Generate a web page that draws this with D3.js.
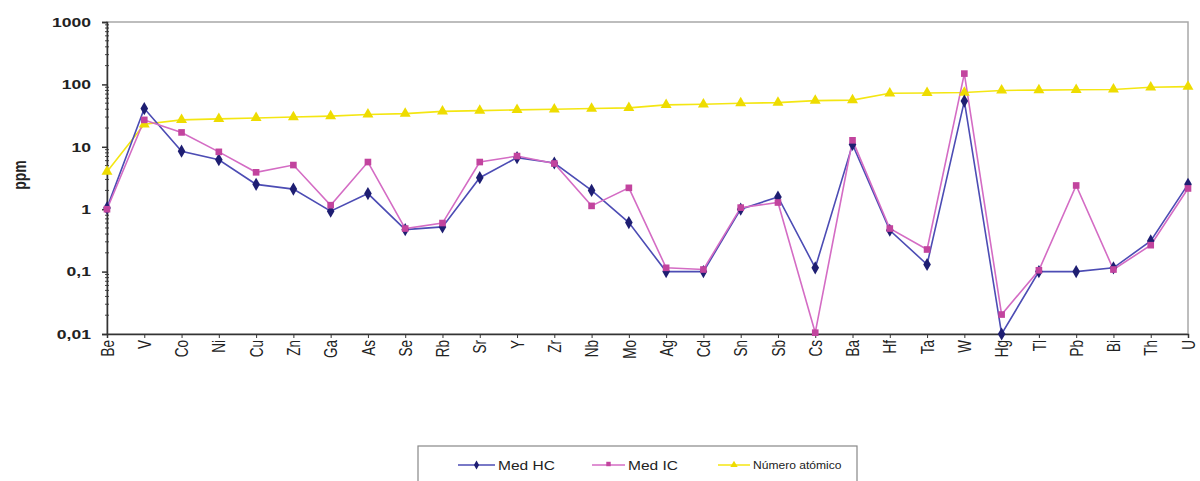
<!DOCTYPE html>
<html><head><meta charset="utf-8">
<script src="https://cdn.jsdelivr.net/npm/d3@7"></script>
<style>body{margin:0;background:#fff}svg{display:block}text{font-family:"Liberation Sans",Arial,sans-serif}</style>
</head><body><svg id="c" width="1200" height="481"></svg>
<script>
const categories = ["Be","V","Co","Ni","Cu","Zn","Ga","As","Se","Rb","Sr","Y","Zr","Nb","Mo","Ag","Cd","Sn","Sb","Cs","Ba","Hf","Ta","W","Hg","Tl","Pb","Bi","Th","U"];
const medHC = [1.05,41,8.5,6.2,2.5,2.1,0.93,1.78,0.47,0.52,3.2,6.7,5.5,2.0,0.61,0.10,0.10,1.0,1.57,0.115,10.9,0.46,0.13,54,0.01,0.10,0.10,0.115,0.31,2.5];
const medIC = [1.0,27,17,8.3,3.9,5.1,1.16,5.7,0.49,0.6,5.7,7.1,5.4,1.13,2.2,0.115,0.108,1.06,1.28,0.0105,12.7,0.49,0.226,149,0.0205,0.105,2.4,0.108,0.265,2.15];
const atomicNumber = [4,23,27,28,29,30,31,33,34,37,38,39,40,41,42,47,48,50,51,55,56,72,73,74,80,81,82,83,90,92];
const yTickValues = [0.01,0.1,1,10,100,1000];
const yTickLabels = ["0,01","0,1","1","10","100","1000"];
const seriesNames = ["Med HC","Med IC","Número atómico"];

const svg = d3.select("#c");
const L=107, R=1188, T=22, B=334;
const x = d3.scalePoint().domain(categories).range([L,R]).padding(0);
const y = d3.scaleLog().domain([0.01,1000]).range([B,T]);
const SX = 1.3; // horizontal stretch of text seen in the reference

// frame
svg.append("rect").attr("x",L).attr("y",T).attr("width",R-L).attr("height",B-T)
  .attr("fill","none").attr("stroke","#a8a8a8").attr("stroke-width",1.5);

// y axis
const minor=[];
for(let e=-2;e<3;e++) for(let m=2;m<10;m++) minor.push(m*Math.pow(10,e));
svg.append("g").selectAll("line").data(minor).join("line")
  .attr("x1",L-2).attr("x2",L+2).attr("y1",d=>y(d)).attr("y2",d=>y(d)).attr("stroke","#444").attr("stroke-width",1);
const yAxis = d3.axisLeft(y).tickValues(yTickValues).tickFormat((d,i)=>yTickLabels[i]).tickSize(5).tickPadding(5);
const gy = svg.append("g").attr("transform",`translate(${L},0)`).call(yAxis);
gy.select(".domain").attr("stroke","#333").attr("stroke-width",1.5);
gy.selectAll(".tick line").attr("stroke","#333").attr("stroke-width",1.5);
gy.selectAll("text").attr("font-size",13.5).attr("font-weight","bold").attr("fill","#222")
  .attr("x",0).attr("transform",`translate(-16,0) scale(${SX},1)`);

// x axis
const xAxis = d3.axisBottom(x).tickSize(4).tickPadding(4);
const gx = svg.append("g").attr("transform",`translate(0,${B})`).call(xAxis);
gx.select(".domain").attr("stroke","#333").attr("stroke-width",1.5);
gx.selectAll(".tick line").attr("stroke","#333");
gx.selectAll("text").attr("font-size",13.5).attr("fill","#222")
  .attr("transform",`rotate(-90) scale(1,${SX})`).attr("text-anchor","end").attr("dy","0.35em").attr("x",-6).attr("y",0);

// y title
svg.append("text").attr("transform",`translate(20,175) rotate(-90) scale(1,${SX})`).attr("text-anchor","middle")
  .attr("dy","0.35em").attr("font-size",14).attr("font-weight","bold").attr("fill","#222").text("ppm");

const series = [
  {name:seriesNames[0], vals:medHC, line:"#4c4cb4", mark:"#1e1e72", sym:d3.symbolDiamond, size:50},
  {name:seriesNames[1], vals:medIC, line:"#d46cc4", mark:"#c2449e", sym:d3.symbolSquare, size:44},
  {name:seriesNames[2], vals:atomicNumber, line:"#f4e612", mark:"#eedc00", sym:d3.symbolTriangle, size:52}
];
const drawOrder=[2,0,1];
const line = d3.line().x((d,i)=>x(categories[i])).y(d=>y(d));
drawOrder.forEach(k=>{
  const s=series[k];
  svg.append("path").datum(s.vals).attr("d",line).attr("fill","none").attr("stroke",s.line).attr("stroke-width",1.6);
});
drawOrder.forEach(k=>{
  const s=series[k];
  svg.append("g").selectAll("path").data(s.vals).join("path")
    .attr("d",d3.symbol().type(s.sym).size(s.size))
    .attr("transform",(d,i)=>`translate(${x(categories[i])},${y(d)})`)
    .attr("fill",s.mark);
});

// legend
const lg = svg.append("g");
lg.append("rect").attr("x",418).attr("y",446).attr("width",439).attr("height",50)
  .attr("fill","#fff").attr("stroke","#888").attr("stroke-width",1.2);
const lx=[458,592,718], lw=[37,33,32], fs=[13.5,13.5,10.5];
series.forEach((s,i)=>{
  lg.append("line").attr("x1",lx[i]).attr("x2",lx[i]+lw[i]).attr("y1",465).attr("y2",465).attr("stroke",s.line).attr("stroke-width",1.5);
  lg.append("path").attr("d",d3.symbol().type(s.sym).size(s.size*0.45)).attr("transform",`translate(${lx[i]+lw[i]/2},${i==1?464:465})`).attr("fill",s.mark);
  lg.append("text").attr("transform",`translate(${lx[i]+lw[i]+3},465) scale(1.15,1)`).attr("dy","0.35em").attr("font-size",fs[i]).attr("fill","#222").text(s.name);
});
</script></body></html>
